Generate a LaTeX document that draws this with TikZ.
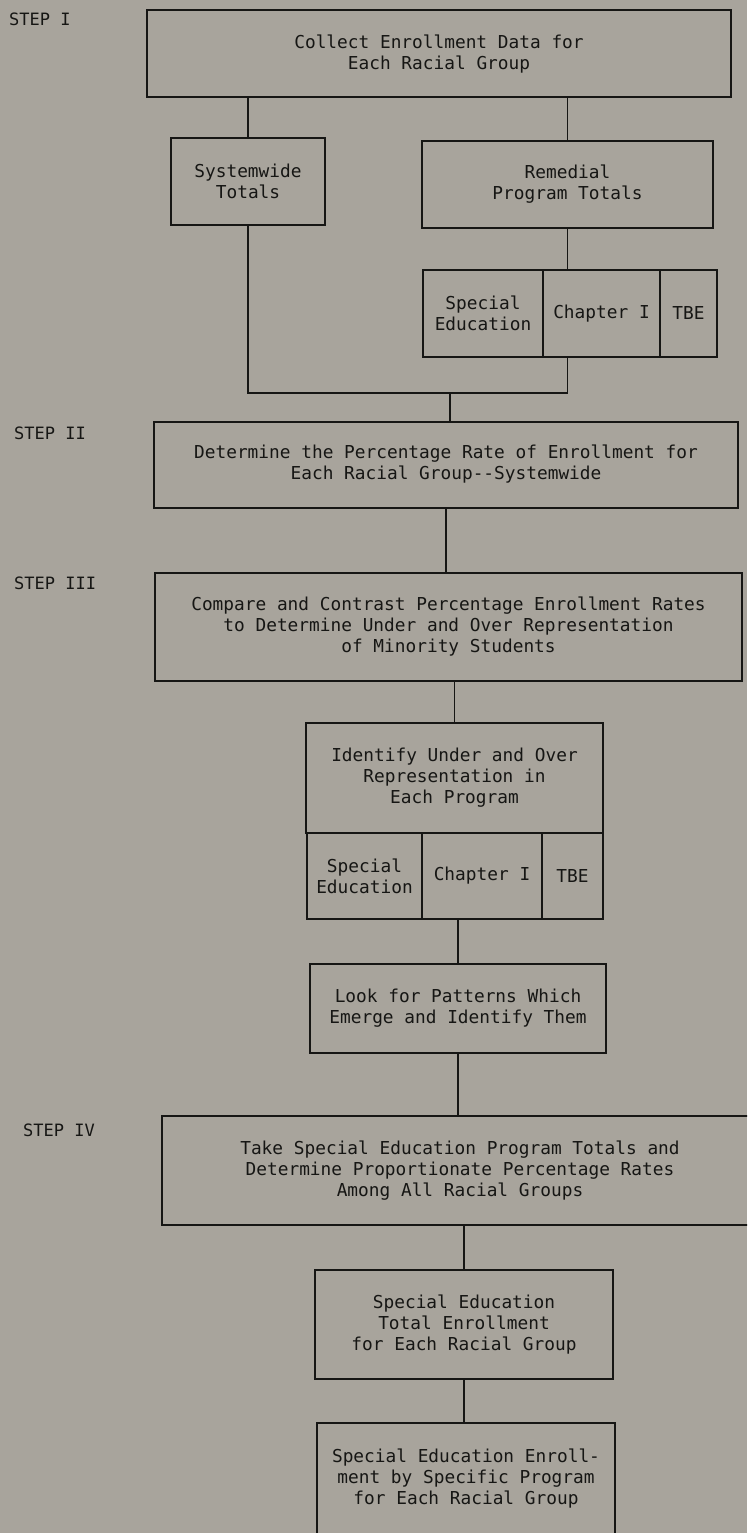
\documentclass[tikz,border=0pt]{standalone}
\usepackage{fontspec}
\usepackage{xcolor}
\usetikzlibrary{positioning}
\newfontfamily\dotfont{DejaVu Sans Mono}
\definecolor{Paper}{RGB}{168,164,156}
\definecolor{Ink}{RGB}{22,22,20}
\tikzset{
  box/.style={draw=Ink, line width=2pt, align=center, inner sep=2pt,
    text=Ink, font=\dotfont\fontsize{17.8}{21}\selectfont},
  cell/.style={box, minimum height=87pt},
  wire/.style={draw=Ink, line width=1.4pt},
  steplbl/.style={anchor=west, inner sep=0pt, text=Ink,
    font=\dotfont\fontsize{17}{20}\selectfont},
}
\begin{document}
\begin{tikzpicture}[x=1pt, y=-1pt]
    \useasboundingbox (0,0) rectangle (747,1533);
    \fill[Paper] (0,0) rectangle (747,1533);
    \clip (0,0) rectangle (747,1533);

    \node[steplbl] (s1) at (9,19) {STEP I};
    \node[steplbl] (s2) at (14,433) {STEP II};
    \node[steplbl] (s3) at (14,583) {STEP III};
    \node[steplbl] (s4) at (23,1130) {STEP IV};

    \node[box, minimum width=584pt, minimum height=87pt] (collect) at (439,54)
      {Collect Enrollment Data for\\Each Racial Group};
    \node[box, minimum width=154pt, minimum height=87pt] (sys) at (248,181.5)
      {Systemwide\\Totals};
    \node[box, minimum width=291pt, minimum height=87pt] (rem) at (567.5,184.5)
      {Remedial\\Program Totals};
    \node[cell, minimum width=120pt] (spec1) at (483,313.5) {Special\\Education};
    \node[cell, minimum width=117pt] (chap1) at (601.5,313.5) {Chapter I};
    \node[cell, minimum width=57pt] (tbe1) at (688.5,313.5) {TBE};
    \coordinate (jn) at (450,393);

    \node[box, minimum width=584pt, minimum height=86pt] (stepii) at (446,464.5)
      {Determine the Percentage Rate of Enrollment for\\Each Racial Group{-}{-}Systemwide};
    \node[box, minimum width=587pt, minimum height=108pt] (stepiii) at (448.5,627)
      {Compare and Contrast Percentage Enrollment Rates\\to Determine Under and Over Representation\\of Minority Students};
    \node[box, minimum width=297pt, minimum height=110pt] (ident) at (454.5,778)
      {Identify Under and Over\\Representation in\\Each Program};
    \node[cell, minimum width=115pt, minimum height=86pt] (spec2) at (364.5,876) {Special\\Education};
    \node[cell, minimum width=120pt, minimum height=86pt] (chap2) at (482,876) {Chapter I};
    \node[cell, minimum width=61pt, minimum height=86pt] (tbe2) at (572.5,876) {TBE};
    \node[box, minimum width=296pt, minimum height=89pt] (look) at (458,1008.5)
      {Look for Patterns Which\\Emerge and Identify Them};

    \node[box, minimum width=596pt, minimum height=109pt] (stepiv) at (460,1170.5)
      {Take Special Education Program Totals and\\Determine Proportionate Percentage Rates\\Among All Racial Groups};
    \node[box, minimum width=298pt, minimum height=109pt] (setot) at (464,1324.5)
      {Special Education\\Total Enrollment\\for Each Racial Group};
    \node[box, minimum width=298pt, minimum height=112pt] (final) at (466,1479)
      {Special Education Enroll-\\ment by Specific Program\\for Each Racial Group};

    \draw[wire] (collect.south -| sys.north) -- (sys.north);
    \draw[wire] (collect.south -| rem.north) -- (rem.north);
    \draw[wire] (rem.south) -- (rem.south |- chap1.north);
    \draw[wire] (sys.south) |- (jn) -| (rem.south |- chap1.south);
    \draw[wire] (jn) -- (jn |- stepii.north);
    \draw[wire] (stepii.south) -- (stepii.south |- stepiii.north);
    \draw[wire] (stepiii.south -| ident.north) -- (ident.north);
    \draw[wire] (look.north |- chap2.south) -- (look.north);
    \draw[wire] (look.south) -- (look.south |- stepiv.north);
    \draw[wire] (stepiv.south -| setot.north) -- (setot.north);
    \draw[wire] (setot.south) -- (setot.south |- final.north);
  \end{tikzpicture}
\end{document}
